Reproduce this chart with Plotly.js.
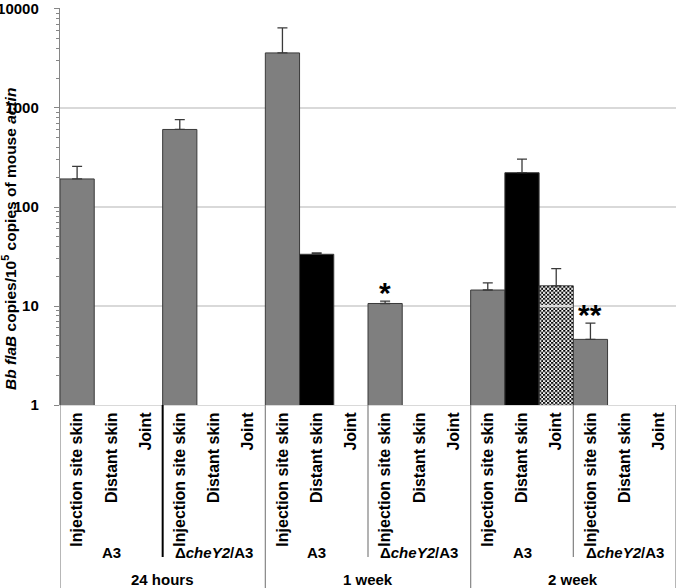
<!DOCTYPE html>
<html>
<head>
<meta charset="utf-8">
<script src="https://cdn.plot.ly/plotly-3.0.1.min.js"></script>
<style>html,body{margin:0;padding:0;background:#fff;}#chart{width:680px;height:588px;}</style>
</head>
<body>
<div id="chart"></div>
<script>
// ---- data ----
var times = ['24 hours', '1 week', '2 week'];
var strains = ['A3', 'Δ<i>cheY2</i>/A3'];
var tissues = ['Injection site skin', 'Distant skin', 'Joint'];
// one value per (time, strain, tissue), in that nesting order
var values = [192, null, null,   607, null, null,
              3600, 33.3, null,  10.6, null, null,
              14.5, 222, 16,     4.6, null, null];
var errUp  = [65, 0, 0,          157, 0, 0,
              2860, 1.0, 0,      0.6, 0, 0,
              2.6, 82, 7.8,      2.1, 0, 0];
var signif = ['', '', '',  '', '', '',
              '', '', '',  '*', '', '',
              '', '', '',  '**', '', ''];
var yTicks = [1, 10, 100, 1000, 10000];

// ---- geometry / style ----
var W = 680, H = 588;
var marg = {l: 60, r: 4, t: 8, b: 183};
var yRange = [0, 4.01];
var plotW = W - marg.l - marg.r, plotH = H - marg.t - marg.b;
var pxPerDecade = plotH / (yRange[1] - yRange[0]);
var catW = plotW / values.length;

var tissueFill = ['#7f7f7f', '#000000', 'rgba(0,0,0,0)'];
var tissueChecker = [false, false, true];
var xs = [], ticktext = [], colors = [];
for (var i = 0; i < values.length; i++) {
  xs.push(i);
  var t = i % 3;
  ticktext.push('<b>' + tissues[t] + '</b>');
  colors.push(tissueFill[t]);
}

var trace = {
  type: 'bar',
  x: xs,
  y: values,
  width: 1,
  marker: {color: colors, line: {color: '#3a3a3a', width: 1}},
  error_y: {
    type: 'data', symmetric: false,
    array: errUp, arrayminus: values.map(function(){return 0;}),
    color: '#3a3a3a', thickness: 1.3, width: 5
  },
  hoverinfo: 'skip'
};

// checkerboard fill for the joint bars (as an image placed under the bar outline)
function checkerURI(w, h) {
  var svg = '<svg xmlns="http://www.w3.org/2000/svg" width="' + w + '" height="' + h + '">' +
    '<defs><pattern id="c" width="4" height="4" patternUnits="userSpaceOnUse">' +
    '<rect width="4" height="4" fill="#fff"/><rect width="2" height="2" fill="#000"/>' +
    '<rect x="2" y="2" width="2" height="2" fill="#000"/></pattern></defs>' +
    '<rect width="' + w + '" height="' + h + '" fill="url(#c)"/></svg>';
  return 'data:image/svg+xml;base64,' + btoa(svg);
}
var images = [];
for (var b = 0; b < values.length; b++) {
  if (tissueChecker[b % 3] && values[b]) {
    var barTop = Math.log10(values[b]);
    images.push({source: checkerURI(Math.round(catW), Math.round(barTop * pxPerDecade)),
      xref: 'x', yref: 'y', x: b - 0.5, y: barTop, sizex: 1, sizey: barTop - yRange[0],
      xanchor: 'left', yanchor: 'top', sizing: 'stretch', layer: 'below'});
  }
}

var F = 'Liberation Sans, Arial, sans-serif';
var annotations = [];
var shapes = [];
var axisY = H - marg.b;
var strainY = -(552 - axisY) / plotH;
var timeY = -(579 - axisY) / plotH;
var strainLineY = -(557 - axisY) / plotH;
var bottomY = -marg.b / plotH;

for (var ti = 0; ti < times.length; ti++) {
  annotations.push({xref: 'x', yref: 'paper', x: ti * 6 + 2.5, y: timeY,
    text: '<b>' + times[ti] + '</b>', showarrow: false,
    font: {family: F, size: 15, color: '#000'}, yanchor: 'middle'});
  for (var si = 0; si < strains.length; si++) {
    annotations.push({xref: 'x', yref: 'paper', x: ti * 6 + si * 3 + 1, y: strainY,
      text: '<b>' + strains[si] + '</b>', showarrow: false,
      font: {family: F, size: 15, color: '#000'}, yanchor: 'middle'});
  }
  shapes.push({type: 'line', xref: 'x', yref: 'paper', x0: ti * 6 + 2.5, x1: ti * 6 + 2.5,
    y0: 0, y1: strainLineY,
    line: {color: ti === 0 ? '#000000' : '#808080', width: ti === 0 ? 2 : 1.2}});
}
for (var k = 0; k <= times.length; k++) {
  shapes.push({type: 'line', xref: 'x', yref: 'paper', x0: k * 6 - 0.5, x1: k * 6 - 0.5,
    y0: 0, y1: bottomY, line: {color: '#868686', width: 1.2}});
}
for (var j = 0; j < signif.length; j++) {
  if (signif[j]) {
    annotations.push({xref: 'x', yref: 'y', x: j, y: Math.log10(values[j] + errUp[j]),
      text: '<b>' + signif[j] + '</b>', showarrow: false, yanchor: 'bottom',
      yshift: -10, font: {family: F, size: 30, color: '#000'}});
  }
}
// y-axis title as annotation (sits between tick labels like the original)
annotations.push({xref: 'paper', yref: 'paper', x: (9 - marg.l) / plotW, y: (axisY - 239) / plotH,
  xanchor: 'center', yanchor: 'middle', textangle: -90, showarrow: false,
  text: '<b><i>Bb flaB</i> copies/10<sup>5</sup> copies of mouse <i>actin</i></b>',
  font: {family: F, size: 15.5, color: '#000'}});

var layout = {
  width: W, height: H,
  margin: {l: marg.l, r: marg.r, t: marg.t, b: marg.b},
  paper_bgcolor: '#fff', plot_bgcolor: '#fff',
  showlegend: false,
  bargap: 0,
  font: {family: F, color: '#000'},
  xaxis: {
    range: [-0.5, 17.5], tickmode: 'array', tickvals: xs, ticktext: ticktext,
    tickangle: -90, tickfont: {family: F, size: 16, color: '#000'},
    ticks: '', showgrid: false, zeroline: false,
    showline: true, linecolor: '#d9d9d9', linewidth: 1, fixedrange: true
  },
  yaxis: {
    type: 'log', range: yRange,
    tickmode: 'array', tickvals: yTicks,
    ticktext: yTicks.map(function(v){return '<b>' + v + '</b>';}),
    tickfont: {family: F, size: 15, color: '#000'},
    ticklabeloverflow: 'allow',
    showgrid: true, gridcolor: '#d9d9d9', gridwidth: 1.2,
    showline: true, linecolor: '#868686', linewidth: 1.2,
    ticks: 'outside', ticklen: 5, tickcolor: '#868686', tickwidth: 1,
    ticklabelstandoff: 12,
    minor: {ticks: 'outside', ticklen: 3, tickcolor: '#868686', dtick: 'D1', showgrid: false},
    zeroline: false, fixedrange: true
  },
  images: images,
  annotations: annotations,
  shapes: shapes
};

Plotly.newPlot('chart', [trace], layout, {displayModeBar: false, staticPlot: true});
</script>
</body>
</html>
